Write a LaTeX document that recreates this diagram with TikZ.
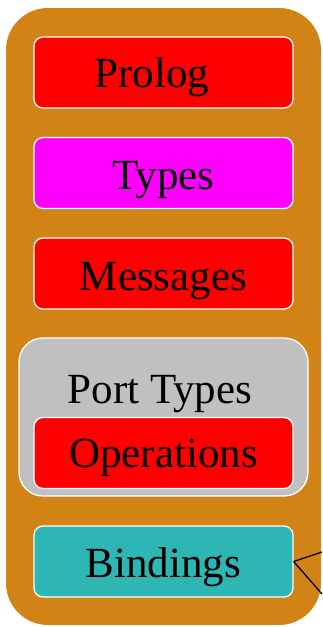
\documentclass[tikz,border=0pt]{standalone}
\usepackage{fontspec}
\setmainfont{Liberation Serif}
\begin{document}
\begin{tikzpicture}[x=1pt,y=-1pt,
  outerbox/.style={draw=none,fill=wsorange,rounded corners=42pt},
  part/.style={draw=white,line width=1.3pt,rounded corners=9pt,minimum width=259pt,minimum height=71pt,inner sep=0pt},
  cluster/.style={draw=white,line width=1.3pt,fill=wsgrey,rounded corners=24pt,minimum width=289pt,minimum height=158pt,inner sep=0pt},
  lbl/.style={anchor=base,inner sep=0pt,font=\fontsize{43}{48}\selectfont},
  edge/.style={draw=black,line width=1.3pt}]
\definecolor{wsorange}{RGB}{210,131,22}
\definecolor{wsred}{RGB}{255,0,0}
\definecolor{wsmagenta}{RGB}{255,0,255}
\definecolor{wsgrey}{RGB}{192,192,192}
\definecolor{wsteal}{RGB}{45,182,179}
\useasboundingbox (0,0) rectangle (322,627);
% outer container
\node[outerbox,minimum width=315pt,minimum height=617pt,inner sep=0pt] (wsdl) at (163.5,316.5) {};
% sections
\node[part,fill=wsred] (prolog) at (163.5,72.5) {};
\node[lbl] (prologtxt) at (152,87) {Prolog};
\node[part,fill=wsmagenta] (types) at (163.5,173) {};
\node[lbl] (typestxt) at (163.5,189) {Types};
\node[part,fill=wsred] (messages) at (163.5,273.5) {};
\node[lbl] (messagestxt) at (163.5,290) {Messages};
% port types cluster
\node[cluster] (porttypes) at (163.5,417) {};
\node[lbl] (porttypestxt) at (160,403) {Port Types};
\node[part,fill=wsred] (operations) at (163.5,453) {};
\node[lbl] (operationstxt) at (163.5,467) {Operations};
% bindings
\node[part,fill=wsteal] (bindings) at (163.5,561.5) {};
\node[lbl] (bindingstxt) at (163.5,577) {Bindings};
% outgoing connectors
\coordinate (outA) at (322,552);
\coordinate (outB) at (322,594);
\draw[edge] (bindings.east) -- (outA);
\draw[edge] (bindings.east) -- (outB);
\end{tikzpicture}
\end{document}
